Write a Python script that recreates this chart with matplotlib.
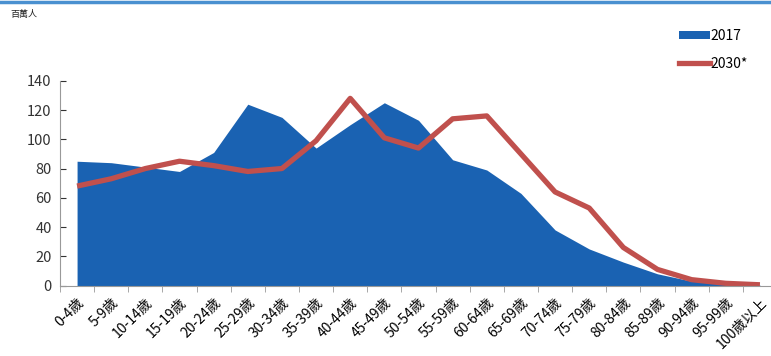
import matplotlib
matplotlib.use('Agg')
import matplotlib.pyplot as plt
from matplotlib.patches import Patch
from matplotlib.lines import Line2D

plt.rcParams['font.family'] = ['Noto Sans CJK TC', 'DejaVu Sans']

age_groups = ['0-4歲', '5-9歲', '10-14歲', '15-19歲', '20-24歲', '25-29歲', '30-34歲',
              '35-39歲', '40-44歲', '45-49歲', '50-54歲', '55-59歲', '60-64歲', '65-69歲',
              '70-74歲', '75-79歲', '80-84歲', '85-89歲', '90-94歲', '95-99歲', '100歲以上']
pop_2017 = [85, 84, 81, 78, 91, 124, 115, 94, 110, 125, 113, 86, 79, 63,
            38, 25, 16, 8, 3, 1, 0.3]
pop_2030 = [68, 73, 80, 85, 82, 78, 80, 99, 128, 101, 94, 114, 116, 90,
            64, 53, 26, 11, 4, 1.5, 0.5]
yticks = [0, 20, 40, 60, 80, 100, 120, 140]

fig = plt.figure(figsize=(7.71, 3.56), dpi=100)
ax = fig.add_axes([60 / 771, 0.198, 717 / 771, 0.575])

x = list(range(len(age_groups)))
ax.fill_between(x, 0, pop_2017, color='#1a62b2', linewidth=0)
ax.plot(x, pop_2030, color='#c0504d', linewidth=3.8, solid_capstyle='butt')

ax.set_xlim(-0.5, len(age_groups) - 0.5)
ax.set_ylim(0, 140)
ax.set_yticks(yticks)
ax.tick_params(axis='y', direction='in', length=4, labelsize=10.5, colors='#333333', pad=6)

# labels at category centres, tick marks at boundaries
ax.set_xticks(x)
ax.set_xticklabels(age_groups, rotation=45, ha='right', rotation_mode='anchor', fontsize=10)
ax.tick_params(axis='x', which='major', length=0, pad=7)
ax.set_xticks([i - 0.5 for i in x], minor=True)
ax.tick_params(axis='x', which='minor', length=4, color='#999999')

for s in ['top', 'right']:
    ax.spines[s].set_visible(False)
ax.spines['left'].set_color('#999999')
ax.spines['bottom'].set_color('#999999')

fig.text(10 / 771, 1 - 15 / 356, '百萬人', fontsize=6.5, va='center', ha='left', color='#222222')

handles = [Patch(facecolor='#1a62b2', edgecolor='none'),
           Line2D([0], [0], color='#c0504d', linewidth=3.8)]
fig.legend(handles, ['2017', '2030*'], loc='upper left', bbox_to_anchor=(672 / 771, 1 - 22 / 356),
           frameon=False, fontsize=10, handlelength=2.2, handleheight=0.5, handletextpad=0.1,
           labelspacing=1.0, borderpad=0)

# thin blue border line at the top of the picture
fig.add_artist(Line2D([0, 1], [0.995, 0.995], transform=fig.transFigure, color='#4a90d0', linewidth=2.5))

fig.savefig('out.png', dpi=100)
